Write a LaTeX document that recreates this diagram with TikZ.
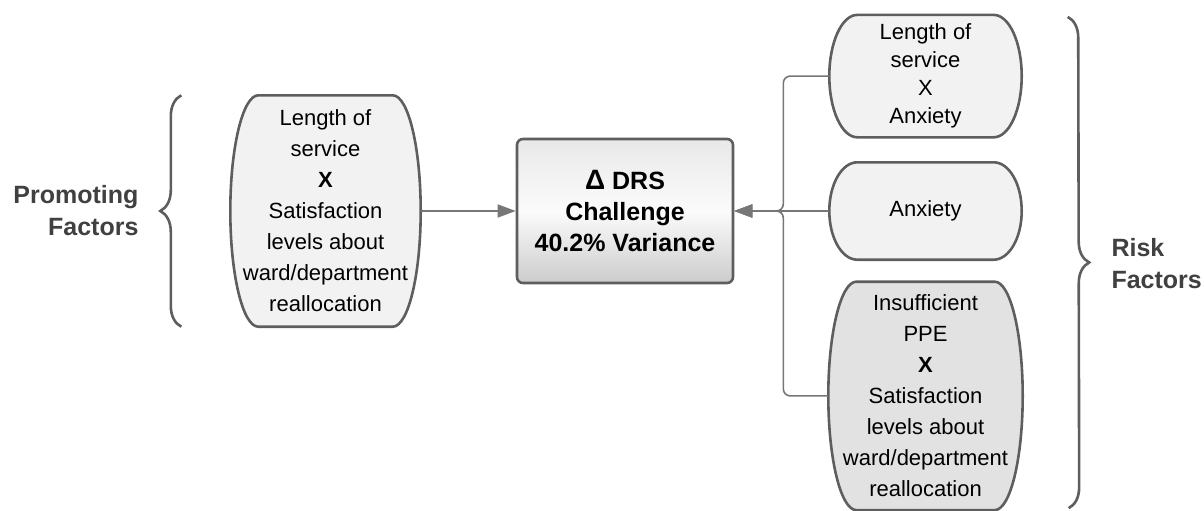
\documentclass[tikz,border=0pt]{standalone}
\usepackage{fontspec}
\setmainfont{Liberation Sans}
\usetikzlibrary{arrows.meta,positioning,calc,backgrounds,decorations.pathreplacing}

\definecolor{edgegray}{HTML}{5E5E5E}
\definecolor{linegray}{HTML}{777777}
\definecolor{pillfill}{HTML}{F2F2F2}
\definecolor{pilldark}{HTML}{E2E2E2}

% outline with elliptic ends, drawn behind node #1
\newcommand{\pillshape}[2]{%
  \begin{pgfonlayer}{background}
  \draw[draw=edgegray, line width=2.6pt, fill=#2]
    let \p1=(#1.north east), \p2=(#1.south west), \n1={(\y1-\y2)/2} in
    (\x2+28pt,\y1) -- (\x1-28pt,\y1)
    arc[start angle=90, end angle=-90, x radius=28pt, y radius=\n1]
    -- (\x2+28pt,\y2)
    arc[start angle=270, end angle=90, x radius=28pt, y radius=\n1] -- cycle;
  \end{pgfonlayer}}

\begin{document}
\begin{tikzpicture}[
  x=1pt, y=-1pt,
  pill/.style={minimum width=190pt, align=center, inner sep=0pt,
               font=\fontsize{22}{31}\selectfont},
  core/.style={draw=edgegray, line width=2.6pt, rounded corners=6pt,
               minimum width=216pt, minimum height=144pt, align=center,
               top color=gray!18, bottom color=gray!40, middle color=gray!3,
               font=\bfseries\fontsize{25}{31}\selectfont},
  conn/.style={linegray, line width=1.6pt},
  arr/.style={conn, -{Triangle[length=18pt,width=13pt]}},
  brace/.style={draw=edgegray, line width=2.6pt, decorate,
                decoration={brace, amplitude=21pt}},
  side/.style={font=\bfseries\fontsize{25}{32}\selectfont, text=black!75}
]
\useasboundingbox (0,0) rectangle (1204,511);

\node[core] (drs) at (625,211) {{\fontsize{28}{31}\selectfont Δ} DRS\\Challenge\\40.2\% Variance};
\node[pill, minimum height=231pt, left=95pt of drs] (pf) {Length of\\service\\\textbf{X}\\Satisfaction\\levels about\\ward/department\\reallocation};
\node[pill, minimum width=192pt, minimum height=97pt, right=95pt of drs] (anx) {Anxiety};
\node[pill, minimum width=192pt, minimum height=122pt, font=\fontsize{22}{28}\selectfont,
      above=25pt of anx] (lsa) {Length of\\service\\X\\Anxiety};
\node[pill, minimum width=194pt, minimum height=228pt, below=22pt of anx] (ppe) {Insufficient\\PPE\\\textbf{X}\\Satisfaction\\levels about\\ward/department\\reallocation};

\pillshape{pf}{pillfill}
\pillshape{anx}{pillfill}
\pillshape{lsa}{pillfill}
\pillshape{ppe}{pilldark}

\coordinate[left=46pt of anx.west] (trunk);
\draw[arr] (pf) -- (drs);
\draw[arr] (anx) -- (drs);
\foreach \n in {lsa,ppe}
  \draw[arr, rounded corners=7pt] (\n.west) -| (trunk) -- (drs.east);

\draw[brace] ([xshift=-49pt]pf.south west) -- ([xshift=-49pt]pf.north west);
\draw[brace] ([xshift=46pt,yshift=-2pt]lsa.north east) -- ([xshift=46pt,yshift=2pt]ppe.south east);

\node[side, align=right, anchor=east] (promo) at (142,211) {Promoting\\Factors};
\node[side, align=left, anchor=west] (risk) at (1108,264) {Risk\\Factors};
\end{tikzpicture}
\end{document}
